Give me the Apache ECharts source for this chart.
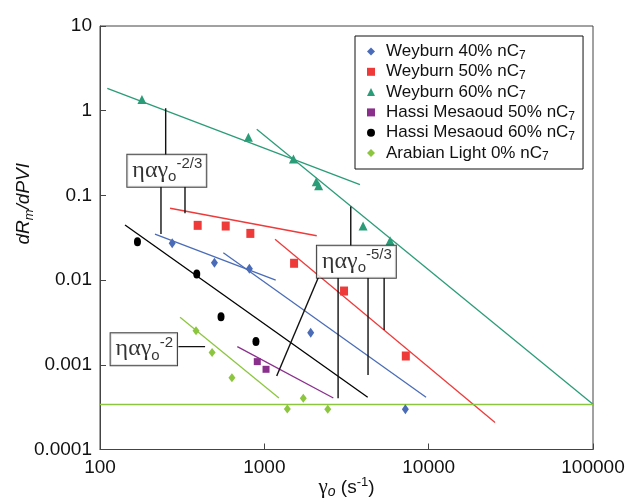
<!DOCTYPE html>
<html>
<head>
<meta charset="utf-8">
<script src="https://cdn.jsdelivr.net/npm/echarts@6/dist/echarts.min.js"></script>
<style>html,body{margin:0;padding:0;background:#fff}#c{width:627px;height:502px}</style>
</head>
<body>
<div id="c"></div>
<script>
// ---- data ----
const xTickLabels = ['100', '1000', '10000', '100000'];
const yTickLabels = ['0.0001', '0.001', '0.01', '0.1', '1', '10'];

const seriesNames = ['Weyburn 40% nC7', 'Weyburn 50% nC7', 'Weyburn 60% nC7',
  'Hassi Mesaoud 50% nC7', 'Hassi Mesaoud 60% nC7', 'Arabian Light 0% nC7'];

const w40X = [275, 497, 811, 1915, 7215];
const w40Y = [0.0272, 0.016, 0.0136, 0.00239, 0.000299];
const w50X = [393, 582, 822, 1517, 3055, 7260];
const w50Y = [0.0443, 0.0435, 0.0356, 0.0158, 0.00743, 0.00127];
const w60X = [180, 800, 1503, 2070, 2140, 3990, 5823];
const w60Y = [1.36, 0.485, 0.269, 0.145, 0.13, 0.0435, 0.0292];
const hm50X = [906, 1024];
const hm50Y = [0.00109, 0.000885];
const hm60X = [169, 388, 545, 889];
const hm60Y = [0.0284, 0.0118, 0.0037, 0.00188];
const alX = [384, 481, 635, 1380, 1726, 2432];
const alY = [0.00253, 0.0014, 0.000705, 0.0003, 0.000402, 0.000298];

// fitted lines: [x1, y1, x2, y2]
const fit40a = [216, 0.0348, 1173, 0.01];
const fit40b = [563, 0.021, 9640, 0.000413];
const fit50a = [267, 0.0705, 2084, 0.0334];
const fit50b = [1162, 0.0303, 25350, 0.000208];
const fit60a = [110.8, 1.84, 3817, 0.134];
const fit60b = [899, 0.603, 100000, 0.000342];
const fitHM50 = [685, 0.00164, 2630, 0.000406];
const fitHM60 = [142, 0.0448, 4256, 0.000413];
const fitAL = [307, 0.00364, 1227, 0.000406];
const alBase = [100, 0.00034, 100000, 0.00034];

// annotation leader lines [x1, y1, x2, y2]
const leaders = [
  [251, 1.067, 251, 0.30],
  [235, 0.127, 235, 0.035],
  [329, 0.127, 329, 0.0615],
  [3357, 0.0253, 3357, 0.074],
  [2811, 0.01067, 2811, 0.000402],
  [4276, 0.01067, 4276, 0.000759],
  [5358, 0.01067, 5358, 0.00258],
  [2134, 0.0108, 1189, 0.000738],
  [300, 0.00164, 436, 0.00164]
];
// annotation boxes
const annotExp = ['-2/3', '-5/3', '-2'];
const annotX = [255, 3631, 184.8];
const annotY = [0.195, 0.01644, 0.00153];

// ---- chart ----
const C = {
  blue: '#4a6cb8', red: '#ef3a3a', green: '#2b9c78',
  purple: '#8a2f8c', black: '#000000', lgreen: '#8cc63f'
};
const pts = (xs, ys) => xs.map((x, i) => [x, ys[i]]);
const seg = a => [[a[0], a[1]], [a[2], a[3]]];

const chart = echarts.init(document.getElementById('c'), null, { renderer: 'canvas' });

function lineSeries(name, arr, color) {
  return {
    name: name, type: 'line', data: seg(arr), symbol: 'none', silent: true,
    lineStyle: { color: color, width: 1.3 }, z: 2, animation: false
  };
}
function scatterSeries(name, xs, ys, color, symbol, size) {
  return {
    name: name, type: 'scatter', data: pts(xs, ys), symbol: symbol, symbolSize: size,
    itemStyle: { color: color, opacity: 1 }, z: 5, animation: false
  };
}

const series = [
  lineSeries('f40a', fit40a, C.blue),
  lineSeries('f40b', fit40b, C.blue),
  lineSeries('f50a', fit50a, C.red),
  lineSeries('f50b', fit50b, C.red),
  lineSeries('f60a', fit60a, C.green),
  lineSeries('f60b', fit60b, C.green),
  lineSeries('fhm50', fitHM50, C.purple),
  lineSeries('fhm60', fitHM60, C.black),
  lineSeries('fal', fitAL, C.lgreen),
  lineSeries('albase', alBase, C.lgreen)
];
leaders.forEach((l, i) => {
  series.push({
    name: 'lead' + i, type: 'line', data: seg(l), symbol: 'none', silent: true,
    lineStyle: { color: '#111', width: 1.4 }, z: 3, animation: false
  });
});
series.push(
  scatterSeries(seriesNames[0], w40X, w40Y, C.blue, 'diamond', [7, 10]),
  scatterSeries(seriesNames[1], w50X, w50Y, C.red, 'rect', [8, 9]),
  scatterSeries(seriesNames[2], w60X, w60Y, C.green, 'triangle', [9, 9]),
  scatterSeries(seriesNames[3], hm50X, hm50Y, C.purple, 'rect', [7, 7]),
  scatterSeries(seriesNames[4], hm60X, hm60Y, C.black, 'circle', [7, 9]),
  scatterSeries(seriesNames[5], alX, alY, C.lgreen, 'diamond', [7, 9])
);
series.push({
  name: 'annot', type: 'scatter', silent: true, z: 10, animation: false,
  symbolSize: 1, itemStyle: { color: 'rgba(0,0,0,0)' },
  data: annotX.map((x, i) => [x, annotY[i]]),
  label: {
    show: true, position: 'inside',
    formatter: p => '{g|ηαγ}{sub|o}{sup|' + annotExp[p.dataIndex] + '}',
    backgroundColor: '#fff', borderColor: '#111', borderWidth: 1,
    padding: [2, 4, 2, 5],
    rich: {
      g: { fontFamily: 'Liberation Serif', fontSize: 24, lineHeight: 28, color: '#000', verticalAlign: 'middle' },
      sub: { fontFamily: 'Liberation Sans', fontSize: 15, lineHeight: 20, color: '#000', verticalAlign: 'bottom' },
      sup: { fontFamily: 'Liberation Sans', fontSize: 15, lineHeight: 14, color: '#000', verticalAlign: 'top' }
    }
  }
});

const logLabel = (labels) => (v) => {
  const e = Math.round(Math.log10(v));
  for (const s of labels) { if (Math.round(Math.log10(parseFloat(s))) === e) return s; }
  return '';
};

chart.setOption({
  animation: false,
  backgroundColor: '#fff',
  grid: { left: 100, right: 34, top: 26, bottom: 52.5, show: true, borderColor: '#444', borderWidth: 1,
    containLabel: false, outerBoundsMode: 'none' },
  xAxis: {
    type: 'log', logBase: 10, min: 100, max: 100000,
    axisLine: { show: true, lineStyle: { color: '#444', width: 1 } },
    axisTick: { show: true, inside: true, length: 6, lineStyle: { color: '#444' } },
    minorTick: { show: false }, splitLine: { show: false },
    axisLabel: { formatter: logLabel(xTickLabels), fontFamily: 'Liberation Sans', fontSize: 19, color: '#111', margin: 9 },
    name: '{g|γ}{s|o}{t| (s}{p|-1}{t|)}',
    nameLocation: 'middle', nameGap: 26, nameMoveOverlap: false,
    nameTextStyle: {
      rich: {
        g: { fontFamily: 'Liberation Serif', fontSize: 21, lineHeight: 24, color: '#111' },
        s: { fontFamily: 'Liberation Sans', fontStyle: 'italic', fontSize: 14, lineHeight: 16, verticalAlign: 'bottom', color: '#111' },
        t: { fontFamily: 'Liberation Sans', fontSize: 19, lineHeight: 24, color: '#111' },
        p: { fontFamily: 'Liberation Sans', fontSize: 13, lineHeight: 14, verticalAlign: 'top', color: '#111' }
      }
    }
  },
  yAxis: {
    type: 'log', logBase: 10, min: 0.0001, max: 10,
    axisLine: { show: true, lineStyle: { color: '#444', width: 1 } },
    axisTick: { show: true, inside: true, length: 6, lineStyle: { color: '#444' } },
    minorTick: { show: false }, splitLine: { show: false },
    axisLabel: { formatter: logLabel(yTickLabels), fontFamily: 'Liberation Sans', fontSize: 19, color: '#111', margin: 8 },
    name: '{i|dR}{s|m}{i|/dPVI}',
    nameLocation: 'middle', nameGap: 64, nameRotate: 90, nameMoveOverlap: false,
    nameTextStyle: {
      padding: [0, 0, 0, 68],
      rich: {
        i: { fontFamily: 'Liberation Sans', fontStyle: 'italic', fontSize: 19, lineHeight: 24, color: '#111' },
        s: { fontFamily: 'Liberation Sans', fontStyle: 'italic', fontSize: 13, lineHeight: 14, verticalAlign: 'bottom', color: '#111' }
      }
    }
  },
  legend: {
    data: seriesNames,
    orient: 'vertical', left: 355, top: 36,
    padding: [7, 8, 6, 12], itemGap: 1.8,
    itemWidth: 8, itemHeight: 8,
    backgroundColor: '#fff', borderColor: '#111', borderWidth: 1, borderRadius: 0,
    formatter: n => '{a|' + n.slice(0, -1) + '}{s|' + n.slice(-1) + '}',
    textStyle: {
      rich: {
        a: { fontFamily: 'Liberation Sans', fontSize: 17, lineHeight: 20, color: '#111', padding: [0, 0, 0, 6] },
        s: { fontFamily: 'Liberation Sans', fontSize: 12, lineHeight: 12, verticalAlign: 'bottom', color: '#111' }
      }
    },
    selectedMode: false
  },
  series: series
});
</script>
</body>
</html>
